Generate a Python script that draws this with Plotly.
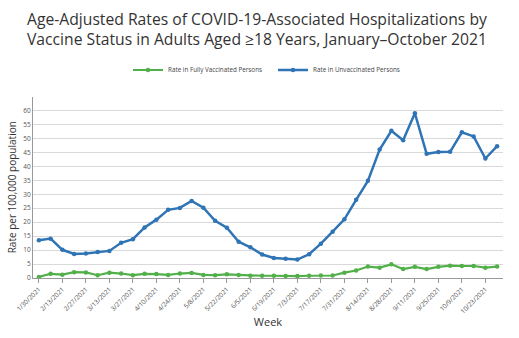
import plotly.graph_objects as go

weeks = ["1/30/2021","2/6/2021","2/13/2021","2/20/2021","2/27/2021","3/6/2021","3/13/2021","3/20/2021",
         "3/27/2021","4/3/2021","4/10/2021","4/17/2021","4/24/2021","5/1/2021","5/8/2021","5/15/2021",
         "5/22/2021","5/29/2021","6/5/2021","6/12/2021","6/19/2021","6/26/2021","7/3/2021","7/10/2021",
         "7/17/2021","7/24/2021","7/31/2021","8/7/2021","8/14/2021","8/21/2021","8/28/2021","9/4/2021",
         "9/11/2021","9/18/2021","9/25/2021","10/2/2021","10/9/2021","10/16/2021","10/23/2021","10/30/2021"]

unvaccinated = [13.5, 14.1, 10.1, 8.6, 8.8, 9.3, 9.7, 12.6, 13.9, 18.1, 20.9, 24.4, 25.1, 27.6, 25.2, 20.5,
                18.0, 13.0, 11.0, 8.4, 7.2, 6.9, 6.6, 8.5, 12.3, 16.6, 21.0, 28.0, 34.8, 46.0, 52.7, 49.3,
                59.0, 44.5, 45.1, 45.2, 52.2, 50.7, 42.8, 47.2]

vaccinated = [0.4, 1.5, 1.2, 2.1, 2.0, 1.0, 1.9, 1.6, 1.0, 1.5, 1.4, 1.1, 1.6, 1.8, 1.1, 1.0,
              1.3, 1.1, 0.8, 0.8, 0.8, 0.7, 0.7, 0.8, 0.9, 0.9, 1.9, 2.7, 4.1, 3.7, 4.9, 3.2,
              4.0, 3.2, 4.0, 4.4, 4.3, 4.3, 3.7, 4.1]

tick_labels = weeks[::2]
y_ticks = [0, 5, 10, 15, 20, 25, 30, 35, 40, 45, 50, 55, 60]

title_text = ("Age-Adjusted Rates of COVID-19-Associated Hospitalizations by<br>"
              "Vaccine Status in Adults Aged ≥18 Years, January–October 2021")

green = "#52b04a"
blue = "#2f74b5"

fig = go.Figure()
fig.add_trace(go.Scatter(
    x=weeks, y=vaccinated, name="Rate in Fully Vaccinated Persons",
    mode="lines+markers", line=dict(color=green, width=2.2),
    marker=dict(color=green, size=4.5)))
fig.add_trace(go.Scatter(
    x=weeks, y=unvaccinated, name="Rate in Unvaccinated Persons",
    mode="lines+markers", line=dict(color=blue, width=2.5),
    marker=dict(color=blue, size=4.5)))

L, R, T, B = 31, 16, 86, 55
ph = 338 - T - B
pw = 519 - L - R

fig.update_layout(
    width=519, height=338,
    margin=dict(l=L, r=R, t=T, b=B),
    paper_bgcolor="white", plot_bgcolor="white",
    font=dict(family="Open Sans", color="#333"),
    legend=dict(orientation="h", x=128/519, xanchor="left", xref="container",
                y=1 - 70/338, yanchor="middle", yref="container",
                font=dict(family="Open Sans", size=6.3, color="#444"),
                itemwidth=30, entrywidth=100),
    showlegend=True,
    annotations=[dict(
        text=title_text, showarrow=False, align="left",
        xref="paper", yref="paper",
        x=(23 - L) / pw, xanchor="left",
        y=(338 - B - 9) / ph, yanchor="top", yshift=20,
        font=dict(family="Open Sans", size=15.7, color="#333"))],
)
fig.update_xaxes(
    type="category", range=[-0.5, 39.5],
    tickvals=tick_labels, ticktext=tick_labels, tickangle=-45,
    tickfont=dict(size=6.5, color="#555"),
    showgrid=False, showline=True, linecolor="#999", linewidth=1,
    ticks="outside", ticklen=4, tickcolor="#999",
    title=dict(text="Week", font=dict(size=11, color="#333"), standoff=3),
)
fig.update_yaxes(
    range=[0, 65], tickvals=y_ticks, ticktext=[str(v) for v in y_ticks],
    tickfont=dict(size=6.5, color="#555"),
    showgrid=True, gridcolor="#d9d9d9", gridwidth=1,
    showline=True, linecolor="#999", linewidth=1,
    zeroline=False,
    title=dict(text="Rate per 100,000 population", font=dict(size=10, color="#333"), standoff=4),
)

fig.write_html("out.html")
